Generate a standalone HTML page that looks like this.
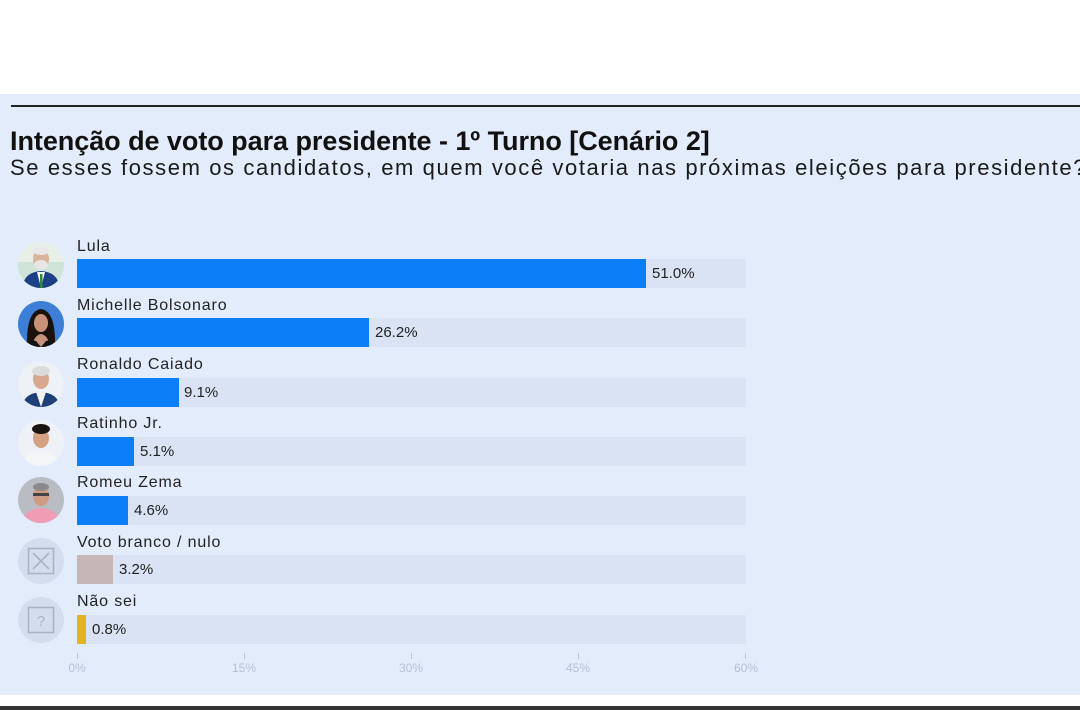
<!DOCTYPE html>
<html><head><meta charset="utf-8"><style>
*{margin:0;padding:0;box-sizing:border-box}
html,body{width:1080px;height:710px;overflow:hidden;background:#fff;font-family:"Liberation Sans",sans-serif}
#panel{position:absolute;left:0;top:94px;width:1080px;height:601px;background:#e2ecfb}
#rule{position:absolute;left:11px;top:105px;width:1069px;height:2px;background:#222}
#bottom{position:absolute;left:0;top:706px;width:1080px;height:4px;background:#333}
#title{position:absolute;left:10px;top:126px;font-size:27px;font-weight:bold;color:#111;white-space:nowrap;line-height:30px;letter-spacing:-0.05px}
#sub{position:absolute;left:10px;top:155px;font-size:22px;color:#1a1a1a;white-space:nowrap;line-height:26px;letter-spacing:1.6px}
.lbl{position:absolute;left:77px;font-size:16px;line-height:18px;color:#222;white-space:nowrap;letter-spacing:0.85px}
.track{position:absolute;left:77px;width:669px;height:29px;background:#d9e3f3}
.bar{position:absolute;left:77px;height:29px}
.val{position:absolute;font-size:15px;line-height:29px;color:#222;white-space:nowrap}
.av{position:absolute;left:18px;width:46px;height:46px;border-radius:50%;overflow:hidden}
.tick{position:absolute;top:653px;width:1px;height:6px;background:#bcc5d8}
.tl{position:absolute;top:661px;width:40px;margin-left:-20px;text-align:center;font-size:12px;color:#b7c0d4;line-height:14px}
</style></head><body>
<div id="panel"></div>
<div id="rule"></div>
<div id="title">Intenção de voto para presidente - 1º Turno [Cenário 2]</div>
<div id="sub">Se esses fossem os candidatos, em quem você votaria nas próximas eleições para presidente?</div>

<!-- Row 0 Lula -->
<div class="lbl" style="top:238px">Lula</div>
<div class="track" style="top:259px"></div>
<div class="bar" style="top:259px;width:569px;background:#0b7df7"></div>
<div class="val" style="top:259px;left:652px">51.0%</div>
<div class="av" style="top:242px"><svg width="46" height="46"><rect width="46" height="46" fill="#cfe3d6"/><rect x="0" y="0" width="46" height="20" fill="#e8efe6"/><ellipse cx="23" cy="17" rx="8" ry="10" fill="#d9b49a"/><ellipse cx="23" cy="9" rx="8" ry="4" fill="#e8e8e8"/><ellipse cx="23" cy="23" rx="7" ry="5" fill="#e6e6e6"/><path d="M4 46 Q6 30 23 29 Q40 30 42 46Z" fill="#1d3f86"/><path d="M19 30 L23 46 L27 30Z" fill="#f4f4f4"/><rect x="22" y="32" width="2.5" height="14" fill="#2e8b3e"/></svg></div>

<!-- Row 1 Michelle -->
<div class="lbl" style="top:297px">Michelle Bolsonaro</div>
<div class="track" style="top:318px"></div>
<div class="bar" style="top:318px;width:292px;background:#0b7df7"></div>
<div class="val" style="top:318px;left:375px">26.2%</div>
<div class="av" style="top:301px"><svg width="46" height="46"><rect width="46" height="46" fill="#3d7fd6"/><path d="M9 46 Q8 10 23 8 Q38 10 37 46Z" fill="#1b120e"/><ellipse cx="23" cy="22" rx="7" ry="9" fill="#c8927a"/><path d="M14 46 Q16 34 23 33 Q30 34 32 46Z" fill="#c8927a"/><path d="M10 46 Q13 38 18 40 L23 46Z M36 46 Q33 38 28 40 L23 46Z" fill="#111"/></svg></div>

<!-- Row 2 Ronaldo -->
<div class="lbl" style="top:356px">Ronaldo Caiado</div>
<div class="track" style="top:377.5px"></div>
<div class="bar" style="top:377.5px;width:101.5px;background:#0b7df7"></div>
<div class="val" style="top:377.5px;left:184px">9.1%</div>
<div class="av" style="top:360.5px"><svg width="46" height="46"><rect width="46" height="46" fill="#eef1f6"/><ellipse cx="23" cy="18" rx="8" ry="10" fill="#d7a88f"/><ellipse cx="23" cy="10" rx="9" ry="5" fill="#dcdcdc"/><path d="M4 46 Q6 32 23 31 Q40 32 42 46Z" fill="#1f3f78"/><path d="M18 31 L23 46 L28 31Z" fill="#f2f2f2"/></svg></div>

<!-- Row 3 Ratinho -->
<div class="lbl" style="top:415px">Ratinho Jr.</div>
<div class="track" style="top:437px"></div>
<div class="bar" style="top:437px;width:57px;background:#0b7df7"></div>
<div class="val" style="top:437px;left:140px">5.1%</div>
<div class="av" style="top:420px"><svg width="46" height="46"><rect width="46" height="46" fill="#eef1f6"/><ellipse cx="23" cy="18" rx="8" ry="10" fill="#d3a283"/><ellipse cx="23" cy="9" rx="9" ry="5" fill="#1a1410"/><path d="M5 46 Q7 32 23 31 Q39 32 41 46Z" fill="#f4f5f7"/></svg></div>

<!-- Row 4 Romeu -->
<div class="lbl" style="top:474px">Romeu Zema</div>
<div class="track" style="top:496px"></div>
<div class="bar" style="top:496px;width:51px;background:#0b7df7"></div>
<div class="val" style="top:496px;left:134px">4.6%</div>
<div class="av" style="top:477px"><svg width="46" height="46"><rect width="46" height="46" fill="#b9bcc3"/><ellipse cx="23" cy="19" rx="8" ry="10" fill="#cf9b82"/><ellipse cx="23" cy="10" rx="8" ry="4" fill="#8a8a8a"/><rect x="15" y="16" width="16" height="3" fill="#444"/><path d="M4 46 Q6 32 23 31 Q40 32 42 46Z" fill="#ef9cb4"/></svg></div>

<!-- Row 5 Voto branco -->
<div class="lbl" style="top:534px">Voto branco / nulo</div>
<div class="track" style="top:555px"></div>
<div class="bar" style="top:555px;width:36px;background:#c4b7b5"></div>
<div class="val" style="top:555px;left:119px">3.2%</div>
<div class="av" style="top:538px;background:#d4ddee"><svg width="46" height="46"><rect x="10.5" y="10.5" width="25" height="25" fill="none" stroke="#aab3c6" stroke-width="1.6"/><path d="M15 15 L31 31 M31 15 L15 31" stroke="#aab3c6" stroke-width="1.6"/></svg></div>

<!-- Row 6 Não sei -->
<div class="lbl" style="top:593px">Não sei</div>
<div class="track" style="top:614.5px"></div>
<div class="bar" style="top:614.5px;width:9px;background:#e3b421"></div>
<div class="val" style="top:614.5px;left:92px">0.8%</div>
<div class="av" style="top:597px;background:#d4ddee"><svg width="46" height="46"><rect x="10.5" y="10.5" width="25" height="25" fill="none" stroke="#aab3c6" stroke-width="1.6"/><text x="23" y="29" text-anchor="middle" font-family="Liberation Sans, sans-serif" font-size="15" fill="#aab3c6">?</text></svg></div>

<!-- Axis -->
<div class="tick" style="left:77px"></div><div class="tl" style="left:77px">0%</div>
<div class="tick" style="left:244px"></div><div class="tl" style="left:244px">15%</div>
<div class="tick" style="left:411px"></div><div class="tl" style="left:411px">30%</div>
<div class="tick" style="left:578px"></div><div class="tl" style="left:578px">45%</div>
<div class="tick" style="left:745px"></div><div class="tl" style="left:746px">60%</div>

<div id="bottom"></div>
</body></html>
